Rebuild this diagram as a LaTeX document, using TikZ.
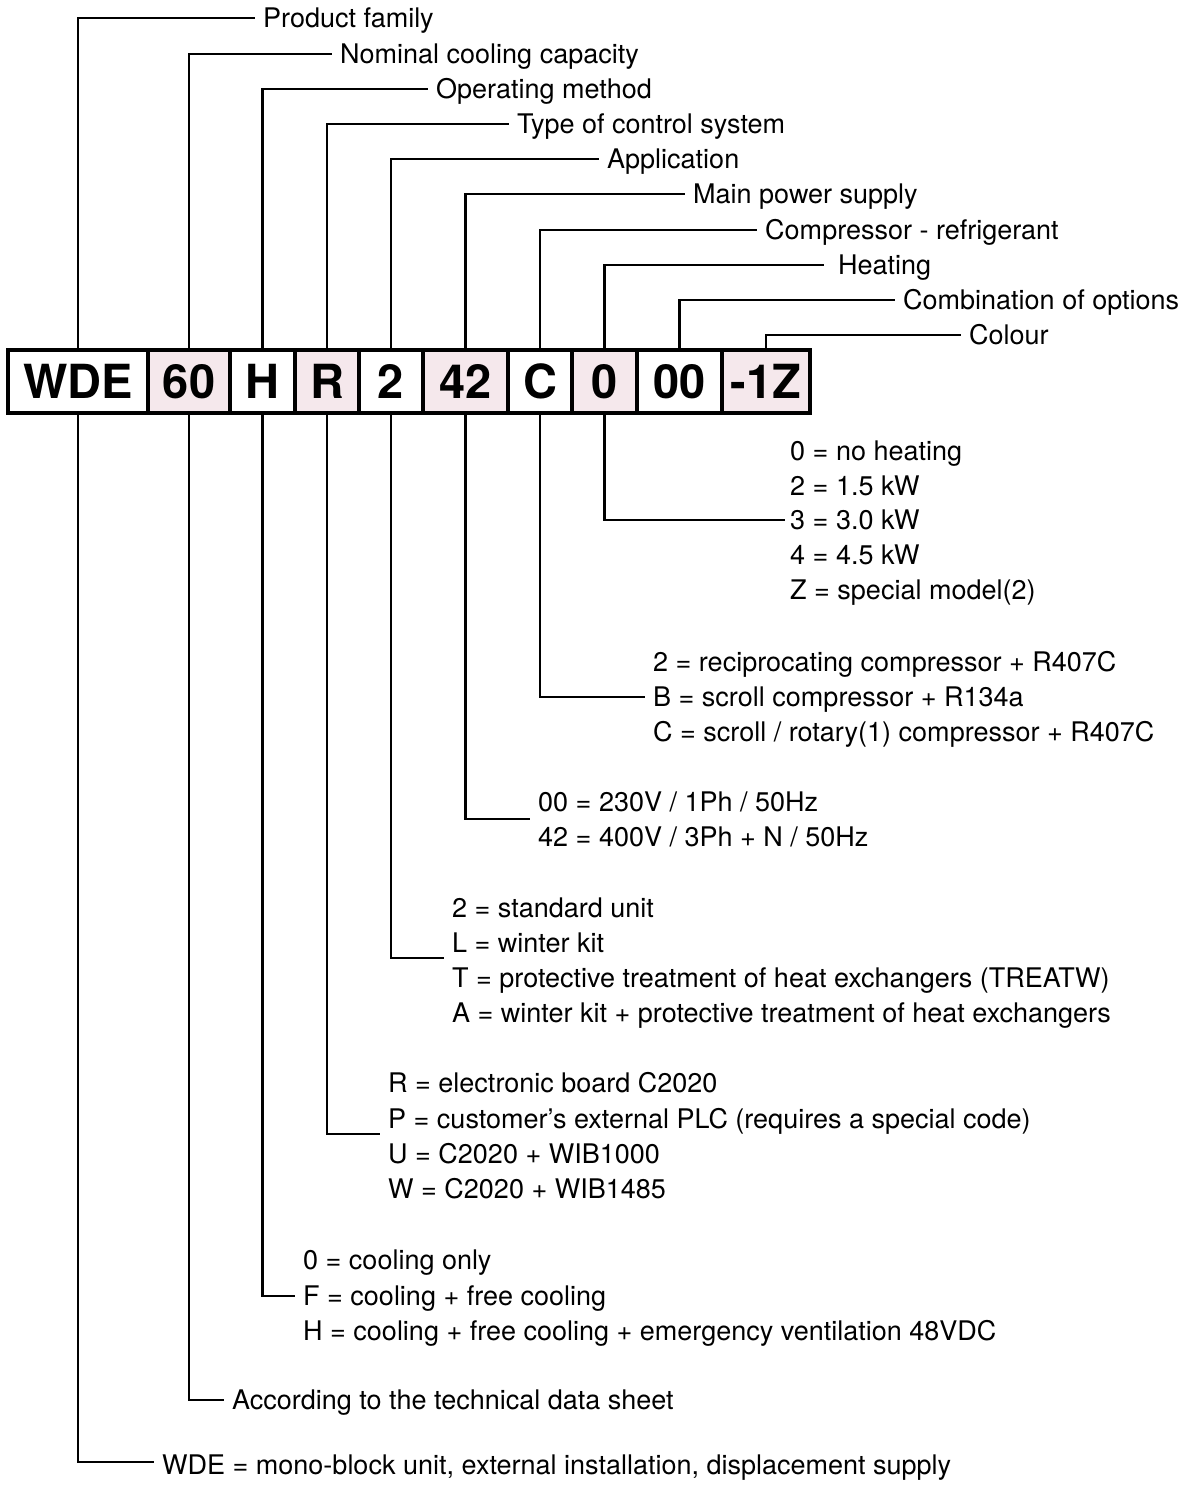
\documentclass[tikz,border=0pt]{standalone}
\usepackage{fontspec}
\setmainfont{TeX Gyre Heros}
\definecolor{cellpink}{RGB}{245,232,236}
\begin{document}
\begin{tikzpicture}[x=1pt,y=-1pt,
  cell/.style={draw=black,line width=3.5pt,minimum height=63pt,inner sep=0pt,
     font=\fontsize{47}{50}\selectfont\bfseries},
  pinkcell/.style={cell,fill=cellpink},
  lab/.style={anchor=west,inner sep=0pt,text height=19.4pt,text depth=0pt,
     font=\fontsize{27}{30}\selectfont},
  conn/.style={line width=2.6pt,line cap=rect,shorten >=9pt}]
\useasboundingbox (0,0) rectangle (1181,1486);
\fill[white] (0,0) rectangle (1181,1486);
% code cells
\node[cell,minimum width=140pt] (cWDE) at (78,381.5) {WDE};
\node[pinkcell,minimum width=82pt] (c60) at (189,381.5) {60};
\node[cell,minimum width=65pt] (cH) at (262.5,381.5) {H};
\node[pinkcell,minimum width=64pt] (cR) at (327,381.5) {R};
\node[cell,minimum width=64pt] (c2) at (391,381.5) {2};
\node[pinkcell,minimum width=85pt] (c42) at (465.5,381.5) {42};
\node[cell,minimum width=64pt] (cC) at (540,381.5) {C};
\node[pinkcell,minimum width=65pt] (c0) at (604.5,381.5) {0};
\node[cell,minimum width=85pt] (c00) at (679.5,381.5) {00};
\node[pinkcell,minimum width=88pt] (c1Z) at (766,381.5) {-1Z};
% top labels
\node[lab] (tFam) at (263,18) {Product family};
\node[lab] (tCap) at (340,54) {Nominal cooling capacity};
\node[lab] (tOp) at (436,89) {Operating method};
\node[lab] (tCtl) at (517,124) {Type of control system};
\node[lab] (tApp) at (607,159) {Application};
\node[lab] (tPow) at (693,194) {Main power supply};
\node[lab] (tCmp) at (765,230) {Compressor - refrigerant};
\node[lab] (tHeat) at (838,265) {Heating};
\node[lab] (tOpt) at (903,300) {Combination of options};
\node[lab] (tCol) at (969,335) {Colour};
\draw[conn] (cWDE.north) |- (tFam.west);
\draw[conn] (c60.north) |- (tCap.west);
\draw[conn] (cH.north) |- (tOp.west);
\draw[conn] (cR.north) |- (tCtl.west);
\draw[conn] (c2.north) |- (tApp.west);
\draw[conn] (c42.north) |- (tPow.west);
\draw[conn] (cC.north) |- (tCmp.west);
\draw[conn,shorten >=15pt] (c0.north) |- (tHeat.west);
\draw[conn] (c00.north) |- (tOpt.west);
\draw[conn] (c1Z.north) |- (tCol.west);
% heating
\node[lab] (h1) at (790,451) {0 = no heating};
\node[lab] (h2) at (790,486) {2 = 1.5 kW};
\node[lab] (h3) at (790,520) {3 = 3.0 kW};
\node[lab] (h4) at (790,555) {4 = 4.5 kW};
\node[lab] (h5) at (790,590) {Z = special model(2)};
\draw[conn,shorten >=6pt] (c0.south) |- (h3.west);
% compressor
\node[lab] (k1) at (653,662) {2 = reciprocating compressor + R407C};
\node[lab] (k2) at (653,697) {B = scroll compressor + R134a};
\node[lab] (k3) at (653,732) {C = scroll / rotary(1) compressor + R407C};
\draw[conn] (cC.south) |- (k2.west);
% power
\node[lab] (p1) at (538,802) {00 = 230V / 1Ph / 50Hz};
\node[lab] (p2) at (538,837) {42 = 400V / 3Ph + N / 50Hz};
\coordinate (pj) at (538,819);
\draw[conn] (c42.south) |- (pj);
% application
\node[lab] (a1) at (452,908) {2 = standard unit};
\node[lab] (a2) at (452,943) {L = winter kit};
\node[lab] (a3) at (452,978) {T = protective treatment of heat exchangers (TREATW)};
\node[lab] (a4) at (452,1013) {A = winter kit + protective treatment of heat exchangers};
\coordinate (aj) at (452,958);
\draw[conn] (c2.south) |- (aj);
% control
\node[lab] (r1) at (388,1083) {R = electronic board C2020};
\node[lab] (r2) at (388,1119) {P = customer’s external PLC (requires a special code)};
\node[lab] (r3) at (388,1154) {U = C2020 + WIB1000};
\node[lab] (r4) at (388,1189) {W = C2020 + WIB1485};
\coordinate (rj) at (388,1134);
\draw[conn] (cR.south) |- (rj);
% operating
\node[lab] (o1) at (303,1260) {0 = cooling only};
\node[lab] (o2) at (303,1296) {F = cooling + free cooling};
\node[lab] (o3) at (303,1331) {H = cooling + free cooling + emergency ventilation 48VDC};
\draw[conn] (cH.south) |- (o2.west);
% capacity
\node[lab] (n1) at (232,1400) {According to the technical data sheet};
\draw[conn] (c60.south) |- (n1.west);
% family
\node[lab] (f1) at (162,1465) {WDE = mono-block unit, external installation, displacement supply};
\coordinate (fj) at (162,1462);
\draw[conn] (cWDE.south) |- (fj);
\end{tikzpicture}
\end{document}
